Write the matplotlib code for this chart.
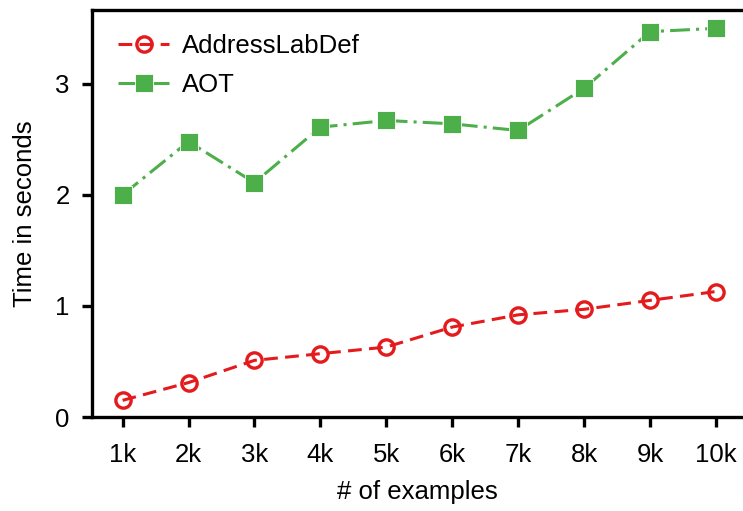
import matplotlib.pyplot as plt

plt.rcParams['font.family'] = ['Liberation Sans', 'DejaVu Sans']

# timings per training-set size
sizes = [1, 2, 3, 4, 5, 6, 7, 8, 9, 10]
size_labels = ['1k', '2k', '3k', '4k', '5k', '6k', '7k', '8k', '9k', '10k']
addresslabdef = [0.15, 0.31, 0.51, 0.57, 0.63, 0.81, 0.92, 0.97, 1.05, 1.13]
aot = [2.00, 2.48, 2.11, 2.61, 2.67, 2.64, 2.58, 2.96, 3.47, 3.50]

fs = 18.5

fig = plt.figure(figsize=(7.43, 5.11), dpi=100)
ax = fig.add_axes([92 / 743, 1 - 417 / 511, (743 - 92) / 743, (417 - 10) / 511])

ax.plot(sizes, addresslabdef, color='#e41a1c', linestyle=(0, (4.5, 2.4)), linewidth=2.2,
        marker='o', markersize=11, markerfacecolor='none', markeredgewidth=2.4,
        label='AddressLabDef')
ax.plot(sizes, aot, color='#4daf4a', linestyle=(0, (6.5, 2, 1, 2)), linewidth=2.2,
        marker='s', markersize=12.5, markeredgecolor='white', markeredgewidth=0.6,
        label='AOT')

ax.set_xlim(0.536, 10.41)
ax.set_ylim(0, 3.665)
ax.set_xticks(sizes)
ax.set_xticklabels(size_labels)
ax.set_yticks([0, 1, 2, 3])

for side in ['left', 'bottom', 'top']:
    ax.spines[side].set_linewidth(2.4)
ax.spines['right'].set_visible(False)
ax.tick_params(axis='both', which='major', labelsize=fs, length=7, width=2.4)
ax.tick_params(axis='x', pad=12)
ax.tick_params(axis='y', pad=9)

ax.set_xlabel('# of examples', fontsize=fs, labelpad=9)
ax.set_ylabel('Time in seconds', fontsize=fs, labelpad=13)

ax.legend(loc='upper left', frameon=False, fontsize=fs, handlelength=2.0,
          handletextpad=0.5, borderaxespad=0.2, labelspacing=0.62,
          bbox_to_anchor=(0.016, 0.98))

fig.savefig('out.png', dpi=100)
